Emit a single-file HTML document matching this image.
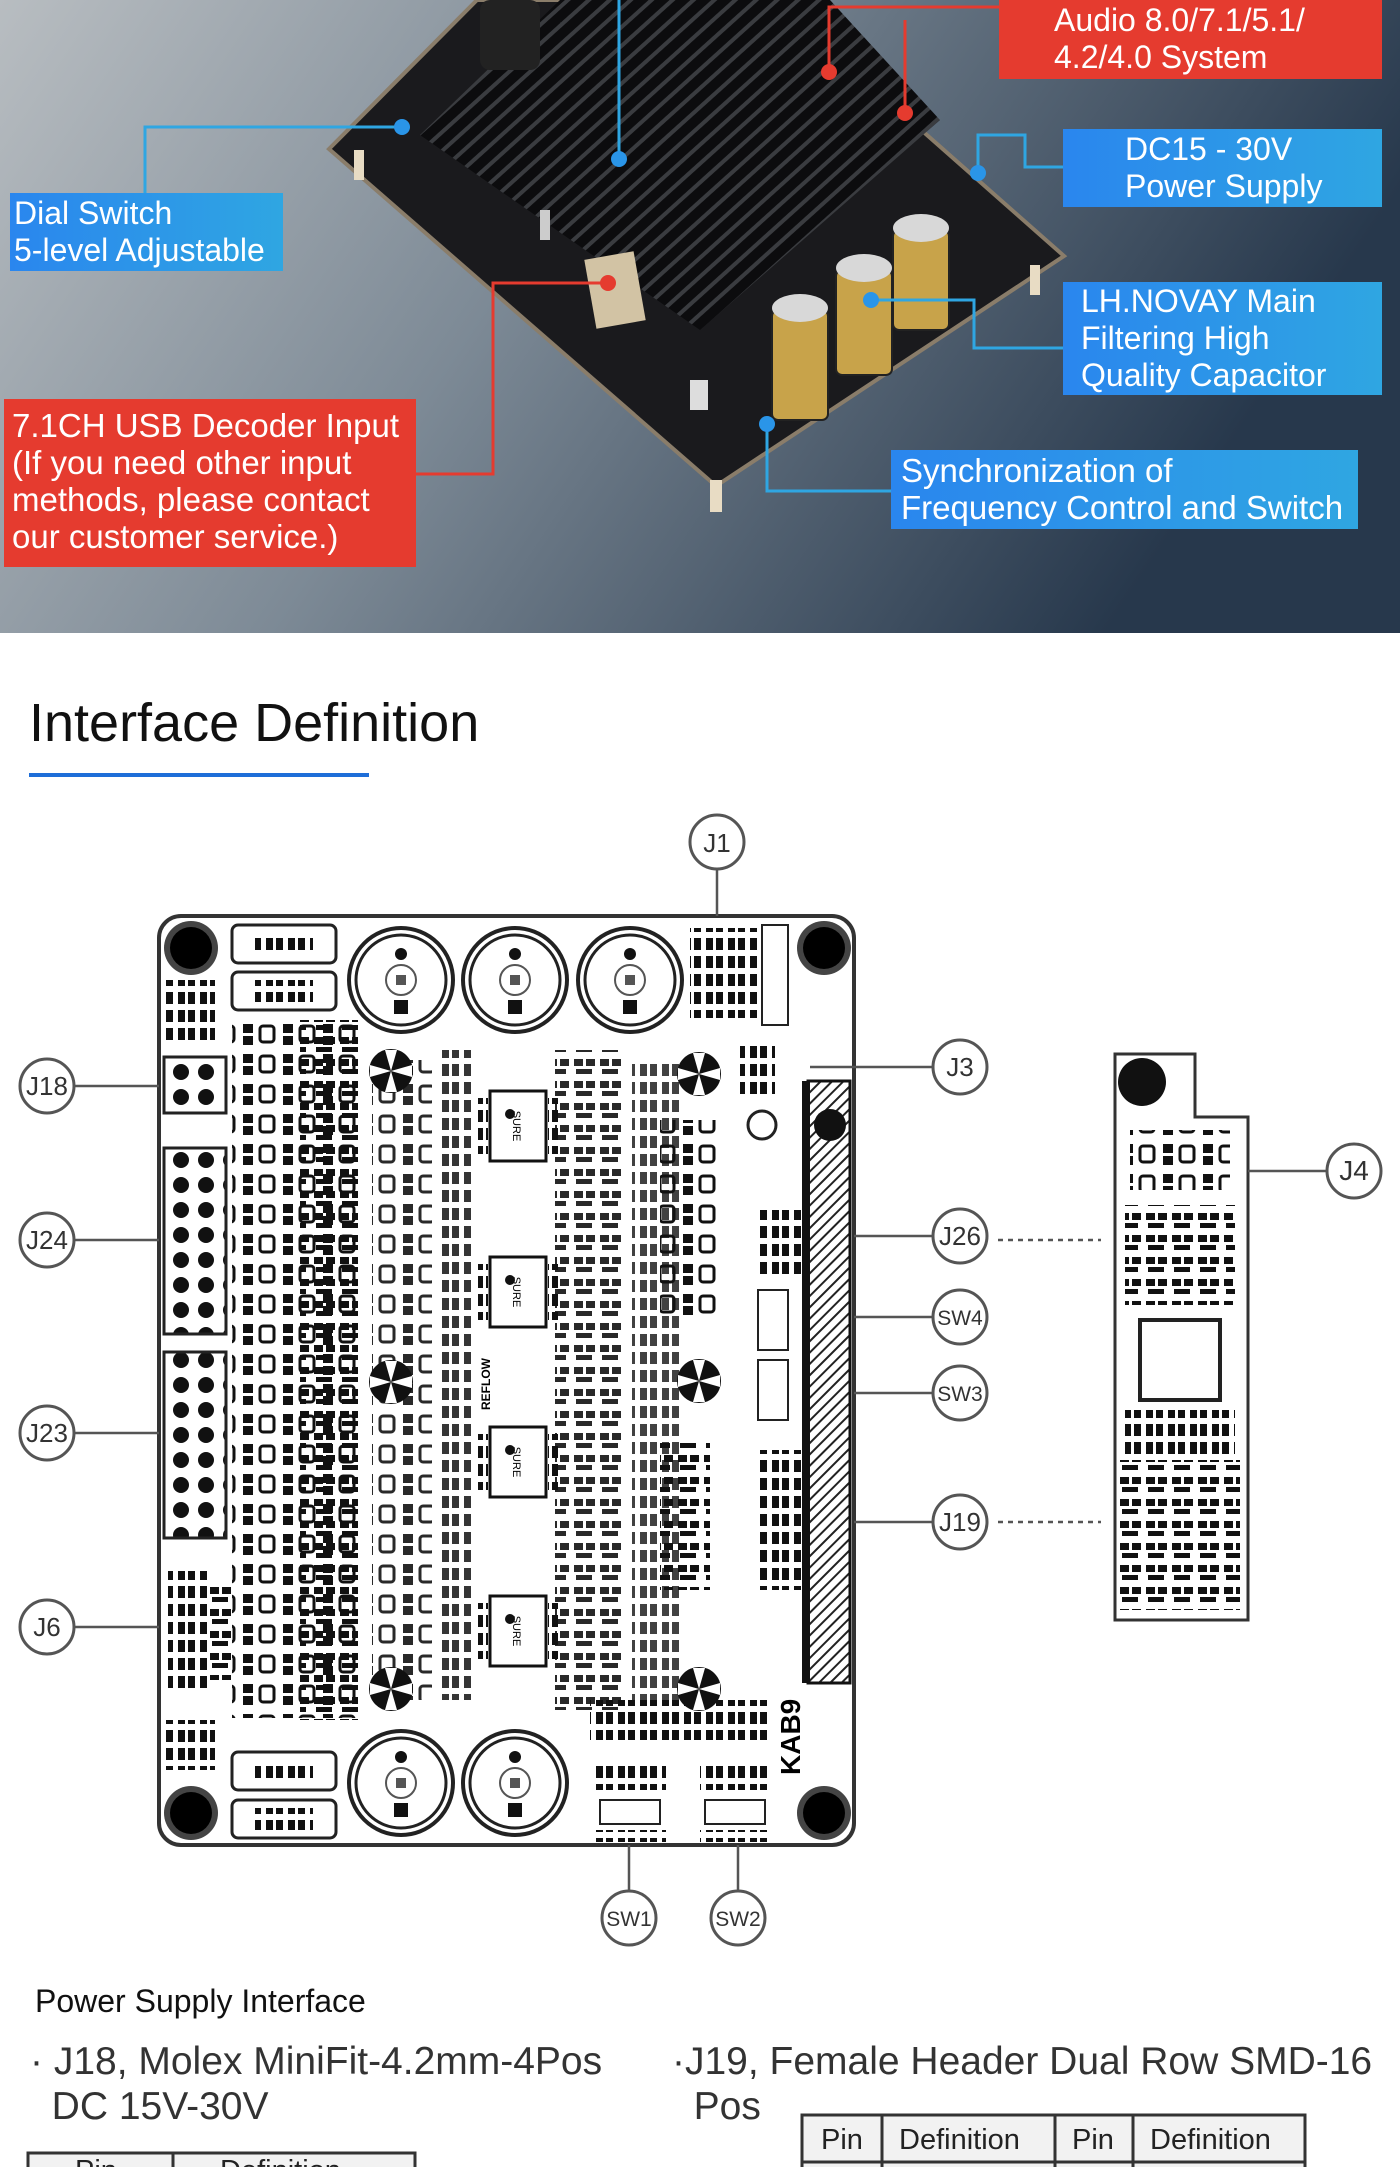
<!DOCTYPE html>
<html><head><meta charset="utf-8"><style>
html,body{margin:0;padding:0;background:#fff;}
body{width:1400px;height:2167px;position:relative;overflow:hidden;font-family:"Liberation Sans",sans-serif;}
.box{position:absolute;color:#fff;font-size:32px;line-height:37px;padding:0 0 0 10px;box-sizing:border-box;}
.red{background:#e53b2f;}
.blue{background:linear-gradient(90deg,#2a86ee,#2fa6e2);}
.t{position:absolute;color:#222;}
</style></head><body>
<svg width="1400" height="2167" viewBox="0 0 1400 2167" style="position:absolute;left:0;top:0">
<defs>
<linearGradient id="bg" x1="0" y1="0" x2="1" y2="0.3">
<stop offset="0" stop-color="#b8bdc1"/><stop offset="0.45" stop-color="#7d8a96"/><stop offset="1" stop-color="#27384c"/></linearGradient>
<pattern id="fins" width="14" height="14" patternUnits="userSpaceOnUse" patternTransform="rotate(48)">
<rect width="14" height="14" fill="#0c0c0e"/><rect width="4" height="14" fill="#3a3c40"/></pattern>
<pattern id="hatch" width="8" height="8" patternUnits="userSpaceOnUse" patternTransform="rotate(45)">
<rect width="8" height="8" fill="#fff"/><rect width="2" height="8" fill="#222"/></pattern>
<pattern id="cmpA" width="26" height="22" patternUnits="userSpaceOnUse">
<rect x="2" y="3" width="9" height="7" fill="#111"/><rect x="14" y="3" width="9" height="7" fill="#111"/><rect x="4" y="13" width="16" height="5" fill="#111"/></pattern>
<pattern id="cmpB" width="40" height="30" patternUnits="userSpaceOnUse">
<rect x="3" y="4" width="10" height="9" fill="#111"/><rect x="3" y="16" width="10" height="9" fill="#111"/><rect x="20" y="6" width="14" height="16" rx="3" fill="none" stroke="#111" stroke-width="3"/></pattern>
<pattern id="cmpC" width="22" height="18" patternUnits="userSpaceOnUse">
<rect x="2" y="2" width="7" height="12" fill="#111"/><rect x="12" y="2" width="7" height="12" fill="#111"/></pattern>
<g id="fan"><circle r="22" fill="#111"/><path d="M0 0L-6 -21L6 -21Z M0 0L21 -6L21 6Z M0 0L6 21L-6 21Z M0 0L-21 6L-21 -6Z" fill="#fff"/></g>
<g id="cap"><circle r="52" fill="#fff" stroke="#222" stroke-width="4"/><circle r="45" fill="#fff" stroke="#222" stroke-width="3"/><circle cy="-26" r="6" fill="#111"/><rect x="-7" y="20" width="14" height="14" fill="#111"/><circle r="15" fill="none" stroke="#555" stroke-width="2"/><rect x="-5" y="-5" width="10" height="10" fill="#555"/></g>
<g id="hole"><circle r="27" fill="#444"/><circle r="21" fill="#000"/></g>
<g id="chip"><rect x="-28" y="-35" width="56" height="70" fill="#fff" stroke="#111" stroke-width="3"/><rect x="-40" y="-28" width="10" height="56" fill="url(#cmpC)"/><rect x="30" y="-28" width="10" height="56" fill="url(#cmpC)"/><text x="0" y="5" font-size="11" text-anchor="middle" transform="rotate(90)" font-family="Liberation Sans">SURE</text><circle cx="-8" cy="-12" r="5" fill="#111"/></g>
<g id="lbl"><circle r="27" fill="#fff" stroke="#555" stroke-width="3"/></g>
</defs>
<!-- photo -->
<rect x="0" y="0" width="1400" height="633" fill="url(#bg)"/>
<polygon points="477,0 774,0 1064,256 716,486 329,149" fill="#1a1a1d" stroke="#8a7d6a" stroke-width="4"/>
<polygon points="420,135 560,0 830,0 940,120 700,330" fill="url(#fins)"/>
<rect x="480" y="0" width="60" height="70" rx="10" fill="#222"/>
<g fill="#c8a34a" stroke="#222" stroke-width="2">
<rect x="772" y="310" width="56" height="110" rx="6"/><rect x="836" y="270" width="56" height="105" rx="6"/><rect x="893" y="230" width="56" height="100" rx="6"/></g>
<g fill="#d8d8d8"><ellipse cx="800" cy="308" rx="28" ry="14"/><ellipse cx="864" cy="268" rx="28" ry="14"/><ellipse cx="921" cy="228" rx="28" ry="14"/></g>
<rect x="590" y="255" width="50" height="70" fill="#d2c3a4" transform="rotate(-10 615 290)"/>
<rect x="690" y="380" width="18" height="30" fill="#ddd"/><rect x="540" y="210" width="10" height="30" fill="#ccc"/>
<g fill="#e8dcc4"><rect x="354" y="150" width="10" height="30"/><rect x="710" y="480" width="12" height="32"/><rect x="1030" y="265" width="10" height="30"/></g>
<g fill="none" stroke-width="3">
<polyline stroke="#e53b2f" points="999,7 829,7 829,72"/><polyline stroke="#e53b2f" points="905,20 905,113"/>
<polyline stroke="#e53b2f" points="608,283 493,283 493,474 416,474"/>
<polyline stroke="#2fa6e2" points="619,0 619,159"/>
<polyline stroke="#2fa6e2" points="402,127 145,127 145,193"/>
<polyline stroke="#2fa6e2" points="978,173 978,135 1025,135 1025,167 1063,167"/>
<polyline stroke="#2fa6e2" points="871,300 974,300 974,348 1063,348"/>
<polyline stroke="#2fa6e2" points="767,424 767,491 891,491"/>
</g>
<g fill="#e53b2f"><circle cx="829" cy="72" r="8"/><circle cx="905" cy="113" r="8"/><circle cx="608" cy="283" r="8"/></g>
<g fill="#2a95e8"><circle cx="619" cy="159" r="8"/><circle cx="402" cy="127" r="8"/><circle cx="978" cy="173" r="8"/><circle cx="871" cy="300" r="8"/><circle cx="767" cy="424" r="8"/></g>

<rect x="29" y="773" width="340" height="4" fill="#1e6ed8"/>

<!-- PCB -->
<rect x="159" y="916" width="695" height="929" rx="22" fill="#fff" stroke="#333" stroke-width="4"/>
<use href="#hole" x="191" y="948"/><use href="#hole" x="824" y="948"/><use href="#hole" x="191" y="1813"/><use href="#hole" x="824" y="1813"/>
<use href="#cap" x="401" y="980"/><use href="#cap" x="515" y="980"/><use href="#cap" x="630" y="980"/>
<use href="#cap" x="401" y="1783"/><use href="#cap" x="515" y="1783"/>
<g fill="#fff" stroke="#222" stroke-width="3"><rect x="232" y="925" width="104" height="38" rx="6"/><rect x="232" y="972" width="104" height="38" rx="6"/><rect x="232" y="1752" width="104" height="38" rx="6"/><rect x="232" y="1800" width="104" height="38" rx="6"/></g>
<g fill="url(#cmpC)"><rect x="255" y="933" width="58" height="22"/><rect x="255" y="980" width="58" height="22"/><rect x="255" y="1760" width="58" height="22"/><rect x="255" y="1808" width="58" height="22"/></g>
<rect x="164" y="1057" width="62" height="56" fill="#fff" stroke="#222" stroke-width="3"/>
<g fill="#111"><circle cx="181" cy="1072" r="8"/><circle cx="206" cy="1072" r="8"/><circle cx="181" cy="1097" r="8"/><circle cx="206" cy="1097" r="8"/></g>
<pattern id="pins" width="25" height="25" patternUnits="userSpaceOnUse" x="169" y="1148"><circle cx="12" cy="12" r="8" fill="#111"/></pattern>
<rect x="164" y="1148" width="62" height="186" fill="url(#pins)" stroke="#222" stroke-width="3"/>
<rect x="164" y="1352" width="62" height="186" fill="url(#pins)" stroke="#222" stroke-width="3"/>
<rect x="168" y="1571" width="40" height="122" fill="url(#cmpC)"/>
<rect x="205" y="1580" width="30" height="100" fill="url(#cmpA)"/>
<rect x="165" y="980" width="50" height="60" fill="url(#cmpC)"/><rect x="165" y="1720" width="50" height="50" fill="url(#cmpC)"/>
<rect x="232" y="1018" width="126" height="700" fill="url(#cmpB)"/>
<rect x="300" y="1020" width="58" height="700" fill="url(#cmpA)"/>
<rect x="372" y="1060" width="60" height="640" fill="url(#cmpB)" opacity="0.9"/>
<rect x="442" y="1050" width="30" height="650" fill="url(#cmpC)" opacity="0.85"/>
<rect x="555" y="1050" width="70" height="660" fill="url(#cmpA)" opacity="0.9"/>
<rect x="632" y="1060" width="50" height="650" fill="url(#cmpC)" opacity="0.8"/>
<rect x="660" y="1120" width="60" height="200" fill="url(#cmpB)"/>
<rect x="660" y="1440" width="50" height="150" fill="url(#cmpA)"/>
<rect x="590" y="1700" width="180" height="40" fill="url(#cmpC)"/>
<rect x="690" y="928" width="70" height="90" fill="url(#cmpC)"/>
<rect x="762" y="925" width="26" height="100" fill="#fff" stroke="#222" stroke-width="2"/>
<rect x="740" y="1040" width="35" height="60" fill="url(#cmpC)"/>
<circle cx="762" cy="1125" r="14" fill="#fff" stroke="#222" stroke-width="3"/>
<rect x="760" y="1210" width="50" height="70" fill="url(#cmpC)"/><rect x="760" y="1450" width="50" height="140" fill="url(#cmpC)"/>
<rect x="758" y="1290" width="30" height="60" fill="#fff" stroke="#222" stroke-width="2"/><rect x="758" y="1360" width="30" height="60" fill="#fff" stroke="#222" stroke-width="2"/>
<rect x="808" y="1081" width="42" height="602" fill="url(#hatch)" stroke="#111" stroke-width="3"/>
<rect x="802" y="1081" width="8" height="602" fill="#111"/><circle cx="830" cy="1125" r="16" fill="#111"/>
<use href="#chip" x="518" y="1126"/><use href="#chip" x="518" y="1292"/><use href="#chip" x="518" y="1462"/><use href="#chip" x="518" y="1631"/>
<use href="#fan" x="391" y="1071"/><use href="#fan" x="391" y="1382"/><use href="#fan" x="391" y="1689"/>
<use href="#fan" x="699" y="1074"/><use href="#fan" x="699" y="1381"/><use href="#fan" x="699" y="1689"/>
<rect x="600" y="1800" width="60" height="24" fill="#fff" stroke="#222" stroke-width="2"/><rect x="705" y="1800" width="60" height="24" fill="#fff" stroke="#222" stroke-width="2"/>
<rect x="596" y="1760" width="70" height="30" fill="url(#cmpC)"/><rect x="700" y="1760" width="70" height="30" fill="url(#cmpC)"/>
<rect x="596" y="1830" width="70" height="12" fill="url(#cmpC)"/><rect x="700" y="1830" width="70" height="12" fill="url(#cmpC)"/>
<text x="800" y="1775" font-size="28" font-weight="bold" transform="rotate(-90 800 1775)" font-family="Liberation Sans">KAB9</text>
<text x="490" y="1410" font-size="12" font-weight="bold" transform="rotate(-90 490 1410)" font-family="Liberation Sans">REFLOW</text>
<path d="M1115 1054 H1195 V1117 H1248 V1620 H1115 Z" fill="#fff" stroke="#333" stroke-width="3"/>
<circle cx="1142" cy="1082" r="24" fill="#111"/>
<rect x="1130" y="1130" width="100" height="60" fill="url(#cmpB)"/>
<rect x="1125" y="1205" width="110" height="100" fill="url(#cmpA)"/>
<rect x="1140" y="1320" width="80" height="80" fill="none" stroke="#222" stroke-width="4"/>
<rect x="1125" y="1410" width="110" height="50" fill="url(#cmpC)"/>
<rect x="1120" y="1460" width="120" height="150" fill="url(#cmpA)"/>
<g stroke="#555" stroke-width="2.5" fill="none">
<line x1="717" y1="870" x2="717" y2="916"/>
<line x1="75" y1="1086" x2="159" y2="1086"/><line x1="75" y1="1240" x2="159" y2="1240"/><line x1="75" y1="1433" x2="159" y2="1433"/><line x1="75" y1="1627" x2="159" y2="1627"/>
<line x1="810" y1="1067" x2="933" y2="1067"/><line x1="854" y1="1236" x2="933" y2="1236"/><line x1="854" y1="1317" x2="933" y2="1317"/><line x1="854" y1="1393" x2="933" y2="1393"/><line x1="854" y1="1522" x2="933" y2="1522"/>
<line x1="1248" y1="1171" x2="1327" y2="1171"/>
<line x1="629" y1="1845" x2="629" y2="1891"/><line x1="738" y1="1845" x2="738" y2="1891"/>
<line x1="998" y1="1240" x2="1101" y2="1240" stroke-dasharray="5,5"/><line x1="998" y1="1522" x2="1101" y2="1522" stroke-dasharray="5,5"/>
</g>
<g font-family="Liberation Sans" font-size="26" text-anchor="middle" fill="#333">
<use href="#lbl" x="717" y="842"/><text x="717" y="852">J1</text>
<use href="#lbl" x="47" y="1086"/><text x="47" y="1095">J18</text>
<use href="#lbl" x="47" y="1240"/><text x="47" y="1249">J24</text>
<use href="#lbl" x="47" y="1433"/><text x="47" y="1442">J23</text>
<use href="#lbl" x="47" y="1627"/><text x="47" y="1636">J6</text>
<use href="#lbl" x="960" y="1067"/><text x="960" y="1076">J3</text>
<use href="#lbl" x="960" y="1236"/><text x="960" y="1245">J26</text>
<use href="#lbl" x="960" y="1317"/><text x="960" y="1325" font-size="21">SW4</text>
<use href="#lbl" x="960" y="1393"/><text x="960" y="1401" font-size="21">SW3</text>
<use href="#lbl" x="960" y="1522"/><text x="960" y="1531">J19</text>
<use href="#lbl" x="1354" y="1171"/><text x="1354" y="1180" font-size="28">J4</text>
<use href="#lbl" x="629" y="1918"/><text x="629" y="1926" font-size="21">SW1</text>
<use href="#lbl" x="738" y="1918"/><text x="738" y="1926" font-size="21">SW2</text>
</g>
<g fill="none" stroke="#333" stroke-width="3">
<rect x="802" y="2115" width="503" height="60" fill="#f2f2f2"/>
<line x1="882" y1="2115" x2="882" y2="2167"/><line x1="1055" y1="2115" x2="1055" y2="2167"/><line x1="1133" y1="2115" x2="1133" y2="2167"/>
<line x1="802" y1="2162" x2="1305" y2="2162"/>
<rect x="28" y="2153" width="387" height="30" fill="#f2f2f2"/><line x1="173" y1="2153" x2="173" y2="2167"/>
</g>
<g font-family="Liberation Sans" font-size="29" fill="#222">
<text x="821" y="2149">Pin</text><text x="899" y="2149">Definition</text><text x="1072" y="2149">Pin</text><text x="1150" y="2149">Definition</text>
<text x="75" y="2180">Pin</text><text x="220" y="2180">Definition</text>
</g>
</svg>
<div class="box red" style="left:999px;top:0;width:383px;height:79px;padding-left:55px;padding-top:2px">Audio 8.0/7.1/5.1/<br>4.2/4.0 System</div>
<div class="box blue" style="left:1063px;top:129px;width:319px;height:78px;padding-left:62px;padding-top:2px">DC15 - 30V<br>Power Supply</div>
<div class="box blue" style="left:1063px;top:282px;width:319px;height:113px;padding-left:18px;padding-top:1px">LH.NOVAY Main<br>Filtering High<br>Quality Capacitor</div>
<div class="box blue" style="left:891px;top:450px;width:467px;height:79px;padding-top:2px;font-size:33px">Synchronization of<br>Frequency Control and Switch</div>
<div class="box blue" style="left:10px;top:193px;width:273px;height:78px;padding-left:4px;padding-top:2px">Dial Switch<br>5-level Adjustable</div>
<div class="box red" style="left:4px;top:399px;width:412px;height:168px;padding-left:8px;padding-top:8px;font-size:33px">7.1CH USB Decoder Input<br>(If you need other input<br>methods, please contact<br>our customer service.)</div>
<div class="t" style="left:29px;top:692px;font-size:54px;color:#111">Interface Definition</div>
<div class="t" style="left:35px;top:1983px;font-size:32px;color:#111">Power Supply Interface</div>
<div class="t" style="left:30px;top:2039px;font-size:39px;line-height:45px;color:#333">· J18, Molex MiniFit-4.2mm-4Pos<br>&nbsp;&nbsp;DC 15V-30V</div>
<div class="t" style="left:672px;top:2039px;font-size:39px;line-height:45px;color:#333">·J19, Female Header Dual Row SMD-16<br>&nbsp;&nbsp;Pos</div>
</body></html>
